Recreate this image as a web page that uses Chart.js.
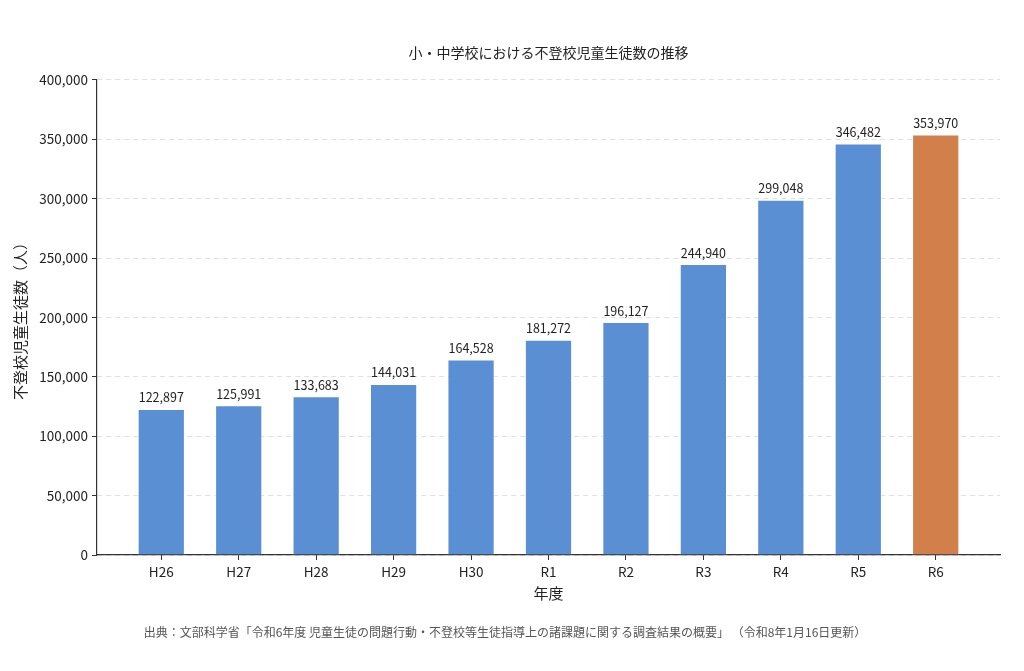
<!DOCTYPE html>
<html lang="ja">
<head>
<meta charset="utf-8">
<script src="https://cdn.jsdelivr.net/npm/chart.js@4/dist/chart.umd.min.js"></script>
<style>
  html, body { margin: 0; padding: 0; background: #fff; }
  #wrap { width: 1024px; height: 671px; }
</style>
</head>
<body>
<div id="wrap"><canvas id="myChart" width="1024" height="671"></canvas></div>
<script>
const years = ['H26', 'H27', 'H28', 'H29', 'H30', 'R1', 'R2', 'R3', 'R4', 'R5', 'R6'];
const students = [122897, 125991, 133683, 144031, 164528, 181272, 196127, 244940, 299048, 346482, 353970];
const yTicks = [0, 50000, 100000, 150000, 200000, 250000, 300000, 350000, 400000];

const FONT = '"Noto Sans CJK JP", "Noto Sans", sans-serif';
const blue = '#5b8fd4';
const orange = '#d17f4b';
const barColors = years.map((y, i) => (i === years.length - 1 ? orange : blue));

const fmt = (v) => v.toLocaleString('en-US');

// value labels above each bar
const valueLabels = {
  id: 'valueLabels',
  afterDatasetsDraw(chart) {
    const { ctx } = chart;
    const meta = chart.getDatasetMeta(0);
    ctx.save();
    ctx.font = '12.5px ' + FONT;
    ctx.fillStyle = '#222';
    ctx.textAlign = 'center';
    ctx.textBaseline = 'bottom';
    meta.data.forEach((bar, i) => {
      ctx.fillText(fmt(students[i]), bar.x, bar.y - 5);
    });
    ctx.restore();
  },
};

new Chart(document.getElementById('myChart'), {
  type: 'bar',
  data: {
    datasets: [
      {
        data: students.map((v, i) => ({ x: i, y: v })),
        backgroundColor: barColors,
        borderColor: 'rgba(255,255,255,0.45)',
        borderWidth: 1,
        barPercentage: 0.61,
        categoryPercentage: 1,
      },
    ],
  },
  options: {
    responsive: false,
    animation: false,
    layout: { padding: { left: 10, right: 24, top: 0, bottom: 0 } },
    scales: {
      x: {
        type: 'linear',
        offset: false,
        min: -0.83,
        max: 10.83,
        afterBuildTicks(scale) {
          scale.ticks = years.map((y, i) => ({ value: i }));
        },
        afterFit(scale) {
          scale.height = 50.6;
        },
        ticks: {
          callback: (v) => years[v],
          color: '#222',
          font: { family: FONT, size: 13.5 },
          padding: 4,
          maxRotation: 0,
          autoSkip: false,
        },
        grid: {
          offset: false,
          drawOnChartArea: false,
          drawTicks: true,
          tickLength: 5,
          tickColor: '#333',
        },
        border: { display: true, color: '#333', width: 1.2 },
        title: {
          display: true,
          text: '年度',
          color: '#222',
          font: { family: FONT, size: 15 },
          padding: { top: 0, bottom: 3 },
        },
      },
      y: {
        min: 0,
        max: 400000,
        afterBuildTicks(scale) {
          scale.ticks = yTicks.map((v) => ({ value: v }));
        },
        afterFit(scale) {
          scale.width = 87;
        },
        ticks: {
          callback: (v) => fmt(v),
          color: '#222',
          font: { family: FONT, size: 13.5 },
          padding: 4,
        },
        grid: {
          color: 'rgba(0,0,0,0.12)',
          lineWidth: 1,
          tickLength: 5,
          tickColor: '#333',
        },
        border: { display: true, color: '#333', width: 1.2, dash: [5, 4] },
        title: {
          display: true,
          text: '不登校児童生徒数（人）',
          color: '#222',
          font: { family: FONT, size: 15 },
          padding: { top: 1, bottom: 0 },
        },
      },
    },
    plugins: {
      legend: { display: false },
      tooltip: { enabled: false },
      title: {
        display: true,
        fullSize: false,
        text: '小・中学校における不登校児童生徒数の推移',
        color: '#222',
        font: { family: FONT, size: 14, weight: 'normal' },
        padding: { top: 44, bottom: 19 },
      },
      subtitle: {
        display: true,
        position: 'bottom',
        text: '出典：文部科学省「令和6年度 児童生徒の問題行動・不登校等生徒指導上の諸課題に関する調査結果の概要」 （令和8年1月16日更新）',
        color: '#555',
        font: { family: FONT, size: 12 },
        padding: { top: 20, bottom: 31 },
      },
    },
  },
  plugins: [valueLabels],
});
</script>
</body>
</html>
